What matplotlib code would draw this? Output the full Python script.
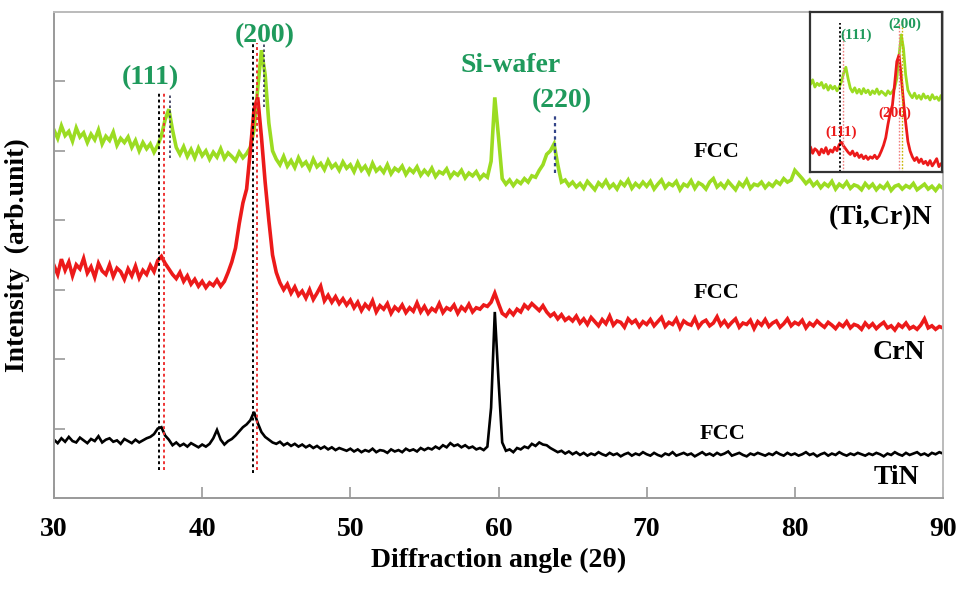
import numpy as np
import matplotlib
matplotlib.use("Agg")
import matplotlib.pyplot as plt

plt.rcParams['font.family'] = ['Liberation Serif', 'DejaVu Serif']
plt.rcParams['font.weight'] = 'bold'

# ---------------- data ----------------
x_start = 30.0
x_step = 0.25

tin = [
    0.84, 0.79, 0.86, 0.81, 0.88, 0.82, 0.80, 0.87, 0.83, 0.79, 0.85, 0.82, 0.89, 0.80, 0.84, 0.86, 0.81, 0.83, 0.78, 0.85,
    0.82, 0.79, 0.84, 0.80, 0.83, 0.86, 0.88, 0.92, 1.00, 1.02, 0.90, 0.84, 0.76, 0.80, 0.75, 0.78, 0.74, 0.79, 0.76, 0.73,
    0.77, 0.74, 0.78, 0.86, 0.98, 0.84, 0.77, 0.82, 0.85, 0.90, 0.96, 1.02, 1.06, 1.12, 1.24, 1.08, 0.95, 0.88, 0.84, 0.80,
    0.78, 0.81, 0.76, 0.79, 0.75, 0.78, 0.74, 0.77, 0.73, 0.76, 0.72, 0.75, 0.71, 0.74, 0.70, 0.73, 0.69, 0.72, 0.70, 0.68,
    0.71, 0.67, 0.70, 0.66, 0.69, 0.67, 0.71, 0.66, 0.69, 0.68, 0.65, 0.70, 0.67, 0.69, 0.66, 0.71, 0.68, 0.70, 0.67, 0.72,
    0.69, 0.72, 0.70, 0.74, 0.71, 0.76, 0.73, 0.79, 0.75, 0.77, 0.73, 0.76, 0.72, 0.74, 0.70, 0.72, 0.69, 0.74, 1.30, 2.68,
    1.70, 0.80, 0.68, 0.70, 0.66, 0.72, 0.70, 0.74, 0.72, 0.78, 0.75, 0.80, 0.77, 0.76, 0.72, 0.69, 0.66, 0.68, 0.64, 0.67,
    0.63, 0.66, 0.62, 0.65, 0.61, 0.64, 0.62, 0.66, 0.63, 0.61, 0.65, 0.62, 0.64, 0.60, 0.63, 0.65, 0.61, 0.64, 0.62, 0.66,
    0.63, 0.61, 0.65, 0.62, 0.60, 0.64, 0.62, 0.66, 0.61, 0.63, 0.65, 0.62, 0.64, 0.60, 0.63, 0.66, 0.62, 0.64, 0.61, 0.65,
    0.62, 0.64, 0.67, 0.61, 0.63, 0.65, 0.62, 0.60, 0.64, 0.62, 0.65, 0.63, 0.61, 0.64, 0.62, 0.66, 0.63, 0.61, 0.65, 0.62,
    0.64, 0.61, 0.63, 0.66, 0.62, 0.64, 0.60, 0.63, 0.65, 0.61, 0.64, 0.62, 0.66, 0.63, 0.61, 0.64, 0.62, 0.65, 0.63, 0.61,
    0.64, 0.62, 0.65, 0.63, 0.60, 0.64, 0.62, 0.66, 0.63, 0.61, 0.65, 0.62, 0.64, 0.66, 0.62, 0.64, 0.61, 0.65, 0.63, 0.66,
    0.64,
]

crn = [
    3.35, 3.22, 3.44, 3.28, 3.40, 3.20, 3.36, 3.30, 3.45, 3.24, 3.33, 3.18, 3.38, 3.27, 3.22, 3.36, 3.19, 3.31, 3.26, 3.15,
    3.30, 3.20, 3.34, 3.17, 3.28, 3.22, 3.35, 3.26, 3.42, 3.48, 3.38, 3.30, 3.22, 3.16, 3.25, 3.12, 3.20, 3.08, 3.15, 3.05,
    3.12, 3.03, 3.10, 3.06, 3.14, 3.05, 3.12, 3.25, 3.40, 3.60, 3.95, 4.25, 4.45, 5.00, 5.60, 5.77, 5.20, 4.55, 4.00, 3.50,
    3.25, 3.10, 3.00, 3.08, 2.95, 3.04, 2.92, 2.98, 2.88, 3.00, 2.86, 2.95, 3.05, 2.84, 2.92, 2.82, 2.90, 2.80, 2.87, 2.78,
    2.85, 2.74, 2.82, 2.70, 2.79, 2.73, 2.84, 2.68, 2.77, 2.72, 2.80, 2.66, 2.75, 2.70, 2.78, 2.67, 2.74, 2.69, 2.81, 2.68,
    2.76, 2.66, 2.73, 2.69, 2.80, 2.67, 2.74, 2.71, 2.78, 2.66, 2.75, 2.70, 2.79, 2.68, 2.74, 2.72, 2.78, 2.76, 2.82, 2.95,
    2.80, 2.66, 2.62, 2.70, 2.64, 2.72, 2.68, 2.78, 2.73, 2.80, 2.75, 2.70, 2.77, 2.68, 2.62, 2.66, 2.58, 2.64, 2.56, 2.60,
    2.55, 2.62, 2.52, 2.58, 2.50, 2.60, 2.54, 2.48, 2.57, 2.51, 2.62, 2.49, 2.55, 2.53, 2.46, 2.58, 2.52, 2.56, 2.47, 2.54,
    2.50, 2.57, 2.48, 2.54, 2.60, 2.47, 2.53, 2.50, 2.58, 2.45, 2.55, 2.51, 2.49, 2.59, 2.46, 2.53, 2.56, 2.48, 2.52, 2.61,
    2.49, 2.55, 2.47, 2.53, 2.58, 2.46, 2.52, 2.50, 2.56, 2.44, 2.54, 2.49, 2.57, 2.47, 2.52, 2.55, 2.46, 2.51, 2.58, 2.48,
    2.53, 2.50, 2.56, 2.45, 2.52, 2.48, 2.55, 2.50, 2.46, 2.53, 2.49, 2.44, 2.51, 2.47, 2.54, 2.45, 2.50, 2.48, 2.43, 2.52,
    2.46, 2.51, 2.44, 2.49, 2.53, 2.45, 2.48, 2.42, 2.50, 2.46, 2.52, 2.44, 2.47, 2.43, 2.49, 2.58, 2.45, 2.48, 2.43, 2.47,
    2.45,
]

ticrn = [
    5.30, 5.18, 5.36, 5.22, 5.28, 5.14, 5.33, 5.20, 5.26, 5.12, 5.24, 5.16, 5.30, 5.10, 5.21, 5.15, 5.27, 5.08, 5.18, 5.12,
    5.20, 5.05, 5.15, 5.00, 5.12, 5.03, 5.10, 4.98, 5.08, 5.22, 5.45, 5.60, 5.30, 5.05, 4.95, 5.06, 4.92, 5.02, 4.90, 5.04,
    4.93, 5.00, 4.88, 4.98, 4.91, 5.03, 4.89, 4.97, 4.92, 4.86, 4.98, 4.90, 4.96, 5.05, 5.30, 5.90, 6.45, 6.10, 5.40, 5.00,
    4.88, 4.80, 4.92, 4.78, 4.86, 4.76, 4.90, 4.79, 4.84, 4.74, 4.88, 4.77, 4.82, 4.73, 4.86, 4.76, 4.81, 4.72, 4.84, 4.75,
    4.80, 4.70, 4.83, 4.72, 4.78, 4.68, 4.82, 4.71, 4.76, 4.69, 4.80, 4.67, 4.75, 4.71, 4.78, 4.66, 4.74, 4.69, 4.77, 4.65,
    4.72, 4.66, 4.75, 4.63, 4.70, 4.67, 4.74, 4.62, 4.69, 4.65, 4.72, 4.61, 4.68, 4.64, 4.70, 4.60, 4.66, 4.62, 4.85, 5.77,
    5.20, 4.60, 4.52, 4.58, 4.50, 4.57, 4.53, 4.60, 4.55, 4.64, 4.62, 4.72, 4.80, 4.95, 5.00, 5.10, 4.80, 4.55, 4.58, 4.50,
    4.55, 4.48, 4.53, 4.46, 4.56, 4.50, 4.44, 4.54, 4.49, 4.57, 4.47, 4.52, 4.45, 4.55, 4.50, 4.58, 4.46, 4.53, 4.48, 4.55,
    4.49, 4.56, 4.45, 4.52, 4.58, 4.47, 4.53, 4.50, 4.56, 4.44, 4.52, 4.49, 4.57, 4.46, 4.54, 4.51, 4.45, 4.55, 4.60, 4.48,
    4.53, 4.47, 4.56, 4.50, 4.44, 4.54, 4.49, 4.58, 4.46, 4.52, 4.50, 4.55, 4.47, 4.53, 4.49, 4.56, 4.52, 4.60, 4.55, 4.58,
    4.72, 4.66, 4.60, 4.53, 4.58, 4.50, 4.55, 4.47, 4.53, 4.49, 4.56, 4.45, 4.52, 4.48, 4.55, 4.46, 4.51, 4.49, 4.44, 4.53,
    4.47, 4.52, 4.44, 4.50, 4.46, 4.53, 4.43, 4.49, 4.51, 4.45, 4.50, 4.47, 4.53, 4.44, 4.48, 4.52, 4.45, 4.49, 4.43, 4.50,
    4.46,
]

x_ticks = [30, 40, 50, 60, 70, 80, 90]

# reference (dotted) peak-position lines: position, y from, y to
black_lines = [(37.1, 0.40, 5.83), (43.45, 0.36, 6.55)]
red_lines = [(37.4, 0.40, 5.83), (43.7, 0.40, 6.55)]
green_lines = [(37.85, 4.90, 5.80), (44.15, 5.63, 6.55)]
navy_lines = [(63.8, 4.68, 5.54)]

GREEN_LINE = '#9bdc22'
RED_LINE = '#ec1a1a'
LABEL_GREEN = '#1f9a5c'

# ---------------- figure ----------------
W, H = 964, 589
fig = plt.figure(figsize=(W / 100, H / 100), dpi=100)
ax = fig.add_axes([54 / W, 1 - 498 / H, (943 - 54) / W, (498 - 12) / H])

x = x_start + x_step * np.arange(len(tin))
ax.plot(x, ticrn, color=GREEN_LINE, lw=2.6, solid_joinstyle='miter')
ax.plot(x, crn, color=RED_LINE, lw=2.6, solid_joinstyle='miter')
ax.plot(x, tin, color='black', lw=1.9, solid_joinstyle='miter')

for xp, y0, y1 in black_lines:
    ax.plot([xp, xp], [y0, y1], color='black', lw=1.4, ls=(0, (1.5, 1.5)))
for xp, y0, y1 in red_lines:
    ax.plot([xp, xp], [y0, y1], color='#ee3333', lw=1.4, ls=(0, (1.5, 1.5)))
for xp, y0, y1 in green_lines:
    ax.plot([xp, xp], [y0, y1], color='#333355', lw=1.2, ls=(0, (1.5, 1.5)))
for xp, y0, y1 in navy_lines:
    ax.plot([xp, xp], [y0, y1], color='#334488', lw=1.6, ls=(0, (1.5, 1.5)))

ax.set_xlim(30, 90)
ax.set_ylim(0, 7)
ax.set_xticks(x_ticks)
ax.set_yticks([1, 2, 3, 4, 5, 6])
ax.set_yticklabels([])
ax.tick_params(axis='both', direction='in', length=8, width=1.2, color='#999999')
ax.tick_params(axis='x', labelsize=20, pad=14)
for lab in ax.get_xticklabels():
    lab.set_fontweight('bold')
for s in ax.spines.values():
    s.set_color('#999999')
    s.set_linewidth(1.4)
ax.spines['top'].set_color('#bbbbbb')
ax.spines['right'].set_color('#bbbbbb')

ax.set_xlabel('Diffraction angle (2θ)', fontsize=20, fontweight='bold', labelpad=4)
ax.set_ylabel('Intensity  (arb.unit)', fontsize=20, fontweight='bold', labelpad=14)

tk = dict(fontweight='bold', ha='center', va='center')
ax.text(36.5, 6.06, '(111)', color=LABEL_GREEN, fontsize=20, **tk)
ax.text(44.2, 6.66, '(200)', color=LABEL_GREEN, fontsize=20, **tk)
ax.text(60.8, 6.23, 'Si-wafer', color=LABEL_GREEN, fontsize=20, **tk)
ax.text(64.3, 5.72, '(220)', color=LABEL_GREEN, fontsize=20, **tk)
ax.text(74.7, 4.98, 'FCC', color='black', fontsize=16, **tk)
ax.text(74.7, 2.95, 'FCC', color='black', fontsize=16, **tk)
ax.text(75.1, 0.92, 'FCC', color='black', fontsize=16, **tk)
tr = dict(fontweight='bold', ha='right', va='center', fontsize=20, color='black')
ax.text(89.3, 4.04, '(Ti,Cr)N', **tr)
ax.text(88.8, 2.10, 'CrN', **tr)
ax.text(88.4, 0.30, 'TiN', **tr)

# ---------------- inset ----------------
axi = fig.add_axes([810 / W, 1 - 172 / H, 132 / W, 160 / H])
axi.plot(x, np.asarray(ticrn) - 0.15, color=GREEN_LINE, lw=2.0)
axi.plot(x, crn, color=RED_LINE, lw=2.0)
axi.plot([37.1, 37.1], [2.7, 6.6], color='black', lw=1.3, ls=(0, (1.2, 1.2)))
axi.plot([37.4, 37.4], [2.7, 6.4], color='#f08080', lw=1.0, ls=(0, (1.2, 1.2)))
axi.plot([43.7, 43.7], [2.7, 6.6], color='#f08080', lw=1.0, ls=(0, (1.2, 1.2)))
axi.plot([44.1, 44.1], [2.7, 6.7], color='#c8b400', lw=1.0, ls=(0, (1.2, 1.2)))
axi.set_xlim(33.7, 48.6)
axi.set_ylim(2.7, 6.9)
axi.set_xticks([])
axi.set_yticks([])
for s in axi.spines.values():
    s.set_color('#333333')
    s.set_linewidth(1.6)
ti = dict(fontweight='bold', ha='center', va='center', fontsize=11)
axi.text(38.9, 6.28, '(111)', color=LABEL_GREEN, **ti)
axi.text(44.4, 6.58, '(200)', color=LABEL_GREEN, **ti)
axi.text(37.2, 3.75, '(111)', color=RED_LINE, **ti)
axi.text(43.3, 4.25, '(200)', color=RED_LINE, **ti)

fig.savefig('out.png', dpi=100)
